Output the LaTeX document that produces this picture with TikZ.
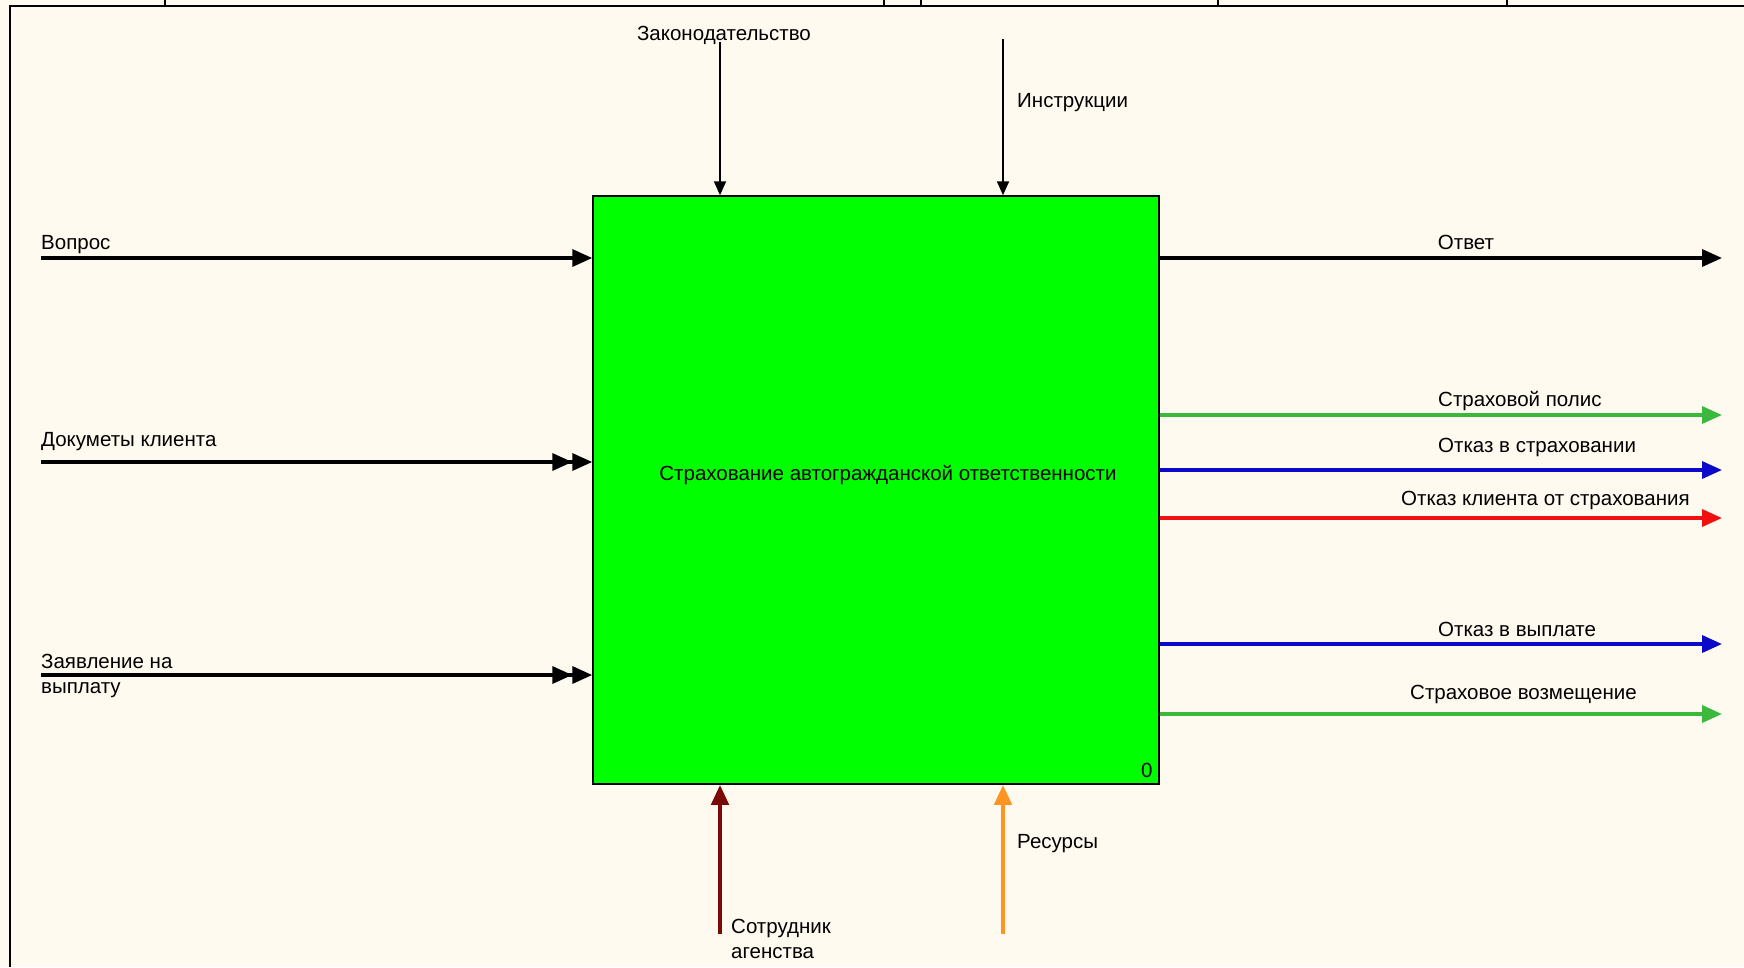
\documentclass[tikz,border=0pt]{standalone}
\usepackage{fontspec}
\setmainfont{Liberation Sans}
\usetikzlibrary{arrows.meta}

\definecolor{paper}{HTML}{FFFAF0}
\definecolor{boxgreen}{HTML}{00FF00}
\definecolor{outgreen}{HTML}{3CB83C}
\definecolor{outblue}{HTML}{0A0AC8}
\definecolor{outred}{HTML}{F01010}
\definecolor{staffred}{HTML}{7A0A0A}
\definecolor{resorange}{HTML}{FF9422}

\begin{document}
\begin{tikzpicture}[
    x=1pt,
    y=-1pt,
    font=\fontsize{20.5}{25}\selectfont,
    func/.style={draw, fill=boxgreen, line width=1.5pt, minimum width=566pt, minimum height=588pt, inner sep=0pt},
    lbl/.style={inner sep=0pt, align=left},
    flow/.style={line width=3.5pt, -{Triangle[length=20pt,width=17pt]}},
    dflow/.style={line width=3.5pt, -{Triangle[length=20pt,width=17pt]Triangle[length=20pt,width=17pt]}},
    ctrl/.style={line width=2pt, -{Triangle[length=14pt,width=12pt]}},
    mech/.style={line width=4.5pt, -{Triangle[length=20pt,width=17pt]}},
  ]
  \useasboundingbox (0,0) rectangle (1744,967);
  \fill[paper] (0,0) rectangle (1744,967);
  \draw[line width=2pt] (10,967) -- (10,6) -- (1744,6);
  \foreach \x in {165,884,921,1218,1507}
    \draw[line width=1.5pt] (\x,0) -- (\x,6);

  \node[func] (f0) at (876,490) {};
  \node[lbl] (title) at (888,475) {Страхование автогражданской ответственности};
  \node[lbl, anchor=south east, xshift=-7pt, yshift=7pt] (num) at (f0.south east) {0};

  % inputs
  \coordinate (in1) at (41,258);
  \coordinate (in2) at (41,462);
  \coordinate (in3) at (41,675);
  \draw[flow] (in1) -- (in1 -| f0.west);
  \draw[dflow] (in2) -- (in2 -| f0.west);
  \draw[dflow] (in3) -- (in3 -| f0.west);
  \node[lbl, anchor=base west] (in1l) at (41,249) {Вопрос};
  \node[lbl, anchor=base west] (in2l) at (41,446) {Докуметы клиента};
  \node[lbl, anchor=base west] (in3l) at (41,693) {Заявление на\\выплату};

  % controls
  \coordinate (c1) at (720,42);
  \coordinate (c2) at (1003,39);
  \draw[ctrl] (c1) -- (c1 |- f0.north);
  \draw[ctrl] (c2) -- (c2 |- f0.north);
  \node[lbl, anchor=base] (c1l) at (724,40) {Законодательство};
  \node[lbl, anchor=base west] (c2l) at (1017,107) {Инструкции};

  % outputs
  \coordinate (o1) at (1722,258);
  \coordinate (o2) at (1722,415);
  \coordinate (o3) at (1722,470);
  \coordinate (o4) at (1722,518);
  \coordinate (o5) at (1722,644);
  \coordinate (o6) at (1722,714);
  \draw[flow] (o1 -| f0.east) -- (o1);
  \draw[flow, outgreen] (o2 -| f0.east) -- (o2);
  \draw[flow, outblue] (o3 -| f0.east) -- (o3);
  \draw[flow, outred] (o4 -| f0.east) -- (o4);
  \draw[flow, outblue] (o5 -| f0.east) -- (o5);
  \draw[flow, outgreen] (o6 -| f0.east) -- (o6);
  \node[lbl, anchor=base] (o1l) at (1466,249) {Ответ};
  \node[lbl, anchor=base west] (o2l) at (1438,406) {Страховой полис};
  \node[lbl, anchor=base west] (o3l) at (1438,452) {Отказ в страховании};
  \node[lbl, anchor=base west] (o4l) at (1401,505) {Отказ клиента от страхования};
  \node[lbl, anchor=base west] (o5l) at (1438,636) {Отказ в выплате};
  \node[lbl, anchor=base west] (o6l) at (1410,699) {Страховое возмещение};

  % mechanisms
  \coordinate (m1) at (720,934);
  \coordinate (m2) at (1003,934);
  \draw[mech, staffred] (m1) -- (m1 |- f0.south);
  \draw[mech, resorange] (m2) -- (m2 |- f0.south);
  \node[lbl, anchor=base west] (m1l) at (731,958) {Сотрудник\\агенства};
  \node[lbl, anchor=base west] (m2l) at (1017,848) {Ресурсы};
\end{tikzpicture}
\end{document}
